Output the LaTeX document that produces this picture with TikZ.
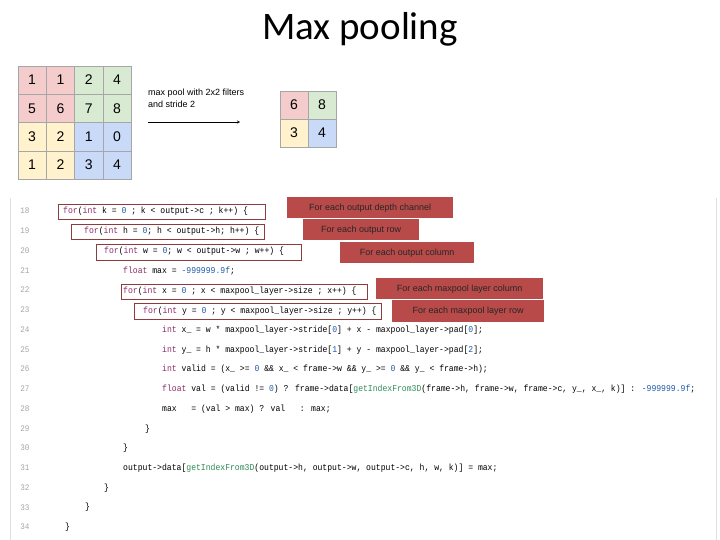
\documentclass[tikz,border=0pt]{standalone}
\usepackage{fontspec}
\setmainfont{Liberation Sans}
\newfontfamily\codefont[FakeStretch=0.9]{Liberation Mono}
\newfontfamily\titlefont{Carlito}
\definecolor{cr}{HTML}{F4CCCC}
\definecolor{cg}{HTML}{D9EAD3}
\definecolor{cy}{HTML}{FFF2CC}
\definecolor{cb}{HTML}{C9DAF8}
\definecolor{lab}{HTML}{B94A4A}
\definecolor{boxc}{HTML}{8E3B3B}
\definecolor{kw}{HTML}{8B2D6B}
\definecolor{num}{HTML}{1F5AA8}
\definecolor{fn}{HTML}{2E8B57}
\newcommand{\K}[1]{\textcolor{kw}{#1}}
\newcommand{\N}[1]{\textcolor{num}{#1}}
\newcommand{\F}[1]{\textcolor{fn}{#1}}
\begin{document}
\begin{tikzpicture}[x=1pt,y=-1pt,
  cell/.style={draw=gray!70,minimum size=28pt,inner sep=0pt,font=\fontsize{14}{14}\selectfont},
  code/.style={anchor=west,inner sep=0pt,font=\codefont\fontsize{9}{10}\selectfont},
  lnum/.style={anchor=center,inner sep=0pt,text=gray!70,font=\codefont\fontsize{8.5}{9}\selectfont},
  hbox/.style={draw=boxc,line width=0.8pt},
  lbl/.style={fill=lab,anchor=north west,inner sep=0pt,font=\fontsize{9}{10}\selectfont,text=black!85}]
\useasboundingbox (0,0) rectangle (720,540);
\fill[white] (0,0) rectangle (720,540);
\node (title) at (360,29) {\titlefont\fontsize{39}{42}\selectfont Max pooling};
% input grid
\foreach \r/\c/\v/\col in {0/0/1/cr,0/1/1/cr,0/2/2/cg,0/3/4/cg,1/0/5/cr,1/1/6/cr,1/2/7/cg,1/3/8/cg,2/0/3/cy,2/1/2/cy,2/2/1/cb,2/3/0/cb,3/0/1/cy,3/1/2/cy,3/2/3/cb,3/3/4/cb}
  \node[cell,fill=\col,minimum size=28.3pt] (in\r\c) at ({32.1+28.3*\c},{80.1+28.3*\r}) {\v};
\foreach \r/\c/\v/\col in {0/0/6/cr,0/1/8/cg,1/0/3/cy,1/1/4/cb}
  \node[cell,fill=\col] (out\r\c) at ({294+28*\c},{105+28*\r}) {\v};
\node[anchor=north west,align=left,inner sep=0pt,font=\fontsize{9}{11.5}\selectfont] (desc) at (148,89) {max pool with 2x2 filters\\and stride 2};
\coordinate (a1) at (148,122);
\coordinate (a2) at (240,122);
\draw[-stealth,thin] (a1) -- (a2);
% code panel
\draw[gray!25] (10,198) -- (10,540);
\draw[gray!25] (716,198) -- (716,540);
\foreach \n [count=\i from 0] in {18,...,34}
  \node[lnum] (ln\n) at (25,{211+19.75*\i}) {\n};
\node[code] (c18) at (63,211) {\K{for}(\K{int} k = \N{0} ; k < output->c ; k++) \{};
\node[code] (c19) at (84,231) {\K{for}(\K{int} h = \N{0}; h < output->h; h++) \{};
\node[code] (c20) at (104,251) {\K{for}(\K{int} w = \N{0}; w < output->w ; w++) \{};
\node[code] (c21) at (123,271) {\K{float} max = \N{-999999.9f};};
\node[code] (c22) at (123,291) {\K{for}(\K{int} x = \N{0} ; x < maxpool\_layer->size ; x++) \{};
\node[code] (c23) at (143,311) {\K{for}(\K{int} y = \N{0} ; y < maxpool\_layer->size ; y++) \{};
\node[code] (c24) at (162,330) {\K{int} x\_ = w * maxpool\_layer->stride[\N{0}] + x - maxpool\_layer->pad[\N{0}];};
\node[code] (c25) at (162,350) {\K{int} y\_ = h * maxpool\_layer->stride[\N{1}] + y - maxpool\_layer->pad[\N{2}];};
\node[code] (c26) at (162,369) {\K{int} valid = (x\_ >= \N{0} \&\& x\_ < frame->w \&\& y\_ >= \N{0} \&\& y\_ < frame->h);};
\node[code] (c27) at (162,389) {\K{float} val = (valid != \N{0}) ? frame->data[\F{getIndexFrom3D}(frame->h, frame->w, frame->c, y\_, x\_, k)] : \N{-999999.9f};};
\node[code] (c28) at (162,409) {max\ \ \ = (val > max) ? val\ \ \ : max;};
\node[code] (c29) at (145,429) {\}};
\node[code] (c30) at (123,448) {\}};
\node[code] (c31) at (123,468) {output->data[\F{getIndexFrom3D}(output->h, output->w, output->c, h, w, k)] = max;};
\node[code] (c32) at (104,488) {\}};
\node[code] (c33) at (85,507) {\}};
\node[code] (c34) at (65,527) {\}};
% highlight boxes
\draw[hbox] (58,204) rectangle (265,219);
\draw[hbox] (71,224) rectangle (264,239);
\draw[hbox] (96,244) rectangle (301,260);
\draw[hbox] (121,284) rectangle (367,299);
\draw[hbox] (134,303) rectangle (381,319);
% labels
\node[lbl,minimum width=166pt,minimum height=21pt] (l1) at (287,197) {For each output depth channel};
\node[lbl,minimum width=116pt,minimum height=21pt] (l2) at (303,219) {For each output row};
\node[lbl,minimum width=134pt,minimum height=21pt] (l3) at (340,242) {For each output column};
\node[lbl,minimum width=167pt,minimum height=21pt] (l4) at (376,278) {For each maxpool layer column};
\node[lbl,minimum width=152pt,minimum height=22pt] (l5) at (392,300) {For each maxpool layer row};
\end{tikzpicture}
\end{document}
